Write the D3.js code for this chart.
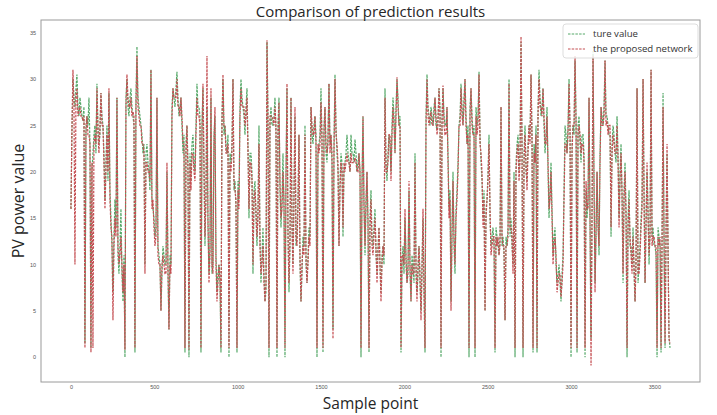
<!DOCTYPE html>
<html>
<head>
<meta charset="utf-8">
<script src="https://cdn.jsdelivr.net/npm/d3@7"></script>
<style>
  body { margin: 0; background: #fff; }
  svg { display: block; font-family: "Open Sans", "Noto Sans", sans-serif; }
  .tick text { fill: #555; font-size: 5.5px; }
</style>
</head>
<body>
<svg id="chart" width="717" height="415"></svg>
<script>
// one value every 6 samples
const sampleStep = 6;

const trueValues = [
  16, 24, 30, 28, 27, 29, 30.5, 27, 26, 28, 27, 26, 25.5, 27, 1.5, 24, 26, 25, 28, 23,
  1, 20, 22, 24, 25, 22, 29.5, 25, 23, 24, 28.5, 26, 25, 22, 17, 21, 25, 19, 28.5, 18,
  15, 12, 7, 13, 17, 14, 28, 11, 9, 12, 16, 9, 6, 11, 0, 28, 30, 27, 26, 28,
  29, 27, 26, 25, 0.5, 28, 33.5, 28, 27, 26, 25, 24, 22, 23, 10, 22, 23, 21, 20, 18,
  31, 17, 16, 15, 13, 14, 28, 12, 11, 10, 5, 9, 12, 11, 10, 10, 20, 9, 3, 11,
  10, 27, 29, 28, 27, 29, 30.8, 28, 26, 27, 28, 25, 22, 24, 0.5, 23, 25, 21, 0, 22,
  19, 23, 24, 21, 20, 25, 29.5, 27, 27, 26, 0.5, 25, 29, 20, 12, 18, 27, 14, 9, 12,
  28, 9, 10, 24, 26, 11, 7, 9, 10, 8, 0.5, 26, 30, 24, 25, 23, 22, 24, 0, 22,
  21, 23, 30, 18, 19, 16, 0.5, 19, 17, 27, 30, 28, 27, 26, 24, 27, 29, 23, 15, 22,
  22, 20, 9, 18, 19, 15, 12, 16, 25, 13, 8, 11, 14, 9, 6, 7, 34, 26, 0, 25,
  27, 25, 25, 26, 28, 24, 0, 25, 28, 18, 14, 17, 22, 16, 0, 20, 29, 14, 7, 12,
  28, 15, 10, 18, 26, 12, 13, 17, 24, 10, 6, 9, 13, 12, 25, 10, 8, 11, 14, 13,
  27, 24, 23, 25, 26, 24, 0, 22, 23, 24, 29, 23, 0.5, 25, 27, 22, 21, 24, 29.5, 23,
  24, 21, 3, 23, 30.5, 25, 22, 20, 12, 19, 22, 21, 13, 20, 21, 22, 24, 22, 21, 20,
  24, 22, 22, 21, 23.5, 22, 20, 21, 22, 20, 0, 19, 26, 17, 11, 16, 20, 14, 0.5, 15,
  18, 13, 12, 14, 16, 11, 9, 12, 14, 10, 7, 11, 12, 10, 29, 21, 19, 22, 24, 23,
  20, 25, 28, 26, 22, 27, 30, 28, 25, 26, 0.5, 10, 12, 9, 15, 11, 8, 10, 18, 9,
  6, 11, 10, 8, 22, 10, 7, 9, 12, 8, 5, 10, 15, 7, 0.5, 26, 30.5, 27, 26, 25,
  27, 26, 25, 27, 28, 25, 24.5, 26, 29, 27, 0, 26, 29, 26, 25, 25, 27, 22, 16, 18,
  6, 14, 20, 12, 9, 16, 18, 21, 25, 26, 29.5, 27, 25, 28, 30, 26, 23, 25, 0, 27,
  29, 26, 24, 25, 0, 27, 25, 26, 30.8, 24, 21, 19, 15, 18, 5, 16, 17, 20, 24, 15,
  12, 13, 14, 12, 0.5, 14, 13, 12, 11, 13, 27, 12, 13, 11, 4, 13, 12, 14, 30, 13,
  15, 12, 10, 20, 0, 21, 23, 24, 20, 22, 34, 23, 0, 22, 25, 20, 19, 23, 25, 24,
  30.5, 24, 0.5, 23, 21, 25, 0.5, 27, 31, 28, 26, 27, 29, 25, 22, 24, 27, 20, 15, 18,
  21, 16, 11, 13, 14, 10, 8, 9, 10, 8, 6, 9, 11, 18, 25, 24, 22, 25, 30, 24,
  0, 23, 25, 24, 32, 26, 0.5, 25, 26, 23, 21, 24, 24, 22, 0, 18, 15, 17, 28, 14,
  2, 16, 33, 19, 8, 13, 20, 15, 11, 22, 27, 26, 25, 27, 32, 26, 26, 25, 24, 24,
  13, 23, 25, 24, 22, 21, 26, 22, 15, 20, 23, 17, 8, 18, 21, 16, 0, 15, 18, 12,
  12, 10, 14, 9, 6, 11, 29, 8, 10, 12, 15, 17, 30, 18, 8, 15, 20, 16, 10, 14,
  31, 13, 14, 12, 12, 11, 0, 14, 13, 12, 0.5, 13, 28.5, 12, 1, 14, 22, 12, 2, 1
];

const predValues = [
  16, 25, 31, 27, 10, 28, 29, 26, 26.5, 27, 26, 26, 25.5, 26, 1, 25, 26, 24, 24, 23,
  0.5, 21, 1, 23, 24, 23, 29, 24, 22, 25, 28.5, 25, 25, 21, 16, 20, 24, 20, 29, 17,
  14, 13, 4, 12, 15, 13, 28, 12, 10, 11, 13, 10, 7, 10, 0.8, 27, 30.5, 28, 27, 27,
  28, 26, 26.5, 26, 1, 27, 32.5, 27, 26, 25, 25, 23, 23, 22, 9, 21, 21, 20, 20, 19,
  31, 16, 17, 14, 12, 13, 28, 11, 10, 10, 5, 10, 11, 10, 9, 9, 21, 10, 3, 10,
  9, 26, 29, 28, 28, 28, 30, 27, 27, 26, 28, 26, 23, 23, 1, 22, 25, 20, 0.8, 21,
  18, 22, 22, 20, 19, 24, 28, 26, 26, 25, 1, 24, 29.5, 21, 13, 17, 32.5, 15, 8, 11,
  29, 10, 9, 23, 27, 10, 6, 8, 10, 9, 1, 25, 30.5, 25, 25, 22, 22, 23, 1, 21,
  20, 22, 30, 19, 18, 17, 1, 18, 16, 26, 29, 27, 27, 27, 25, 26, 28, 22, 16, 21,
  21, 19, 10, 17, 18, 16, 13, 15, 23, 12, 9, 10, 12, 8, 6, 8, 34.2, 25, 1, 26,
  26, 26, 25.5, 25, 27, 25, 1, 24, 27.5, 19, 15, 16, 20, 17, 1, 19, 29.5, 13, 8, 13,
  28, 14, 9, 17, 27, 13, 12, 16, 24, 11, 6, 10, 12, 11, 24, 11, 8, 10, 13, 12,
  27, 25, 24, 24, 26, 23, 1, 23, 22, 23, 27.5, 24, 1, 24, 27, 23, 22, 23, 29.5, 22,
  24, 22, 2, 22, 30, 24, 23, 21, 12, 18, 21, 20, 14, 21, 20, 21, 22, 21, 21, 20,
  22, 21, 21, 21, 21.5, 21, 20, 20, 22, 20, 1, 18, 26, 16, 12, 17, 20, 15, 1, 14,
  17, 12, 11, 13, 15, 12, 8, 11, 14, 10, 6, 10, 12, 11, 28, 20, 20, 21, 24, 24,
  19, 24, 27, 25, 22, 26, 30.2, 27, 25, 25, 1, 11, 11, 10, 16, 10, 8, 9, 19, 10,
  6, 10, 9, 9, 21, 9, 6, 10, 12, 9, 4, 9, 16, 8, 1, 25, 30, 26, 25, 26,
  26.5, 25, 25, 26, 28, 26, 24, 25, 29, 26, 1, 25, 29.3, 25, 24, 24, 27, 21, 15, 17,
  5, 13, 19, 13, 10, 15, 17, 20, 25, 25, 29, 26, 25, 27, 30, 25, 23, 24, 1, 26,
  29, 25, 24, 24, 1, 26, 24, 25, 30.5, 23, 22, 20, 14, 17, 5, 15, 17, 19, 23, 16,
  11, 12, 13, 13, 1, 13, 12, 13, 11, 12, 27, 13, 12, 12, 4, 12, 12, 13, 29.5, 14,
  14, 13, 9, 19, 1, 20, 22, 23, 19, 21, 34.6, 22, 1, 21, 24, 21, 18, 22, 25, 23,
  30.5, 23, 1, 22, 21, 24, 1, 26, 30, 27, 27, 26, 29, 26, 23, 23, 26, 21, 16, 17,
  20, 15, 10, 12, 13, 11, 7, 8, 9, 9, 6.5, 8, 10, 17, 23, 23, 22, 24, 29.5, 25,
  1, 22, 25, 25, 32.5, 25, 1, 24, 25, 24, 22, 23, 23, 21, 1, 19, 16, 16, 28, 15,
  -0.9, 15, 32.5, 18, 7, 14, 20, 14, 12, 21, 27, 25, 25, 26, 32, 25, 25.5, 24, 25, 25,
  14, 22, 24, 23, 22, 22, 25, 21, 14, 19, 22, 18, 9, 17, 20, 15, 1, 14, 17, 13,
  11, 9, 13, 10, 6, 10, 29, 9, 9, 11, 14, 16, 30, 17, 8, 14, 21, 15, 11, 13,
  31, 12, 13, 13, 12, 12, 1, 13, 12, 13, 1, 12, 27, 13, 1.5, 13, 23, 11, 2, 1.5
];

const xTicks = [0, 500, 1000, 1500, 2000, 2500, 3000, 3500];
const yTicks = [0, 5, 10, 15, 20, 25, 30, 35];

const seriesNames = ["ture value", "the proposed network"];
const seriesColors = ["#55a868", "#c44e52"];

const svg = d3.select("#chart");
const plot = { left: 41, right: 700, top: 20, bottom: 382 };

const samples = trueValues.map((d, i) => i * sampleStep);
const xMax = d3.max(samples);
const allY = trueValues.concat(predValues);
const yMin = d3.min(allY), yMax = d3.max(allY);
const yPad = (yMax - yMin) * 0.05;

const x = d3.scaleLinear()
  .domain([-xMax * 0.05, xMax * 1.05])
  .range([plot.left, plot.right]);
const y = d3.scaleLinear()
  .domain([yMin - yPad, yMax + yPad])
  .range([plot.bottom, plot.top]);

// axes: labels only, no tick marks
svg.append("g")
  .attr("transform", `translate(0,${plot.bottom})`)
  .call(d3.axisBottom(x).tickValues(xTicks).tickFormat(d3.format("d")).tickSize(0).tickPadding(3))
  .call((g) => g.select(".domain").remove());
svg.append("g")
  .attr("transform", `translate(${plot.left},0)`)
  .call(d3.axisLeft(y).tickValues(yTicks).tickFormat(d3.format("d")).tickSize(0).tickPadding(5))
  .call((g) => g.select(".domain").remove());

const line = d3.line()
  .x((d, i) => x(samples[i]))
  .y((d) => y(d));

const gLines = svg.append("g");
[trueValues, predValues].forEach((values, k) => {
  gLines.append("path")
    .datum(values)
    .attr("fill", "none")
    .attr("stroke", seriesColors[k])
    .attr("stroke-width", 1.2)
    .attr("stroke-dasharray", "2.5,1.2")
    .attr("d", line);
});

// frame
svg.append("rect")
  .attr("x", plot.left)
  .attr("y", plot.top)
  .attr("width", plot.right - plot.left)
  .attr("height", plot.bottom - plot.top)
  .attr("fill", "none")
  .attr("stroke", "#9a9a9a")
  .attr("stroke-width", 1);

// legend
const legend = svg.append("g").attr("transform", "translate(563,24)");
legend.append("rect")
  .attr("width", 135)
  .attr("height", 34)
  .attr("rx", 3)
  .attr("fill", "#fff")
  .attr("fill-opacity", 0.8)
  .attr("stroke", "#ddd");
seriesNames.forEach((name, k) => {
  const row = legend.append("g").attr("transform", `translate(0,${10 + k * 15})`);
  row.append("line")
    .attr("x1", 5).attr("x2", 22)
    .attr("stroke", seriesColors[k])
    .attr("stroke-dasharray", "2.5,1.2");
  row.append("text")
    .attr("x", 30)
    .attr("dy", "0.35em")
    .attr("font-size", 9.6)
    .attr("fill", "#333")
    .text(name);
});

// titles
svg.append("text")
  .attr("x", (plot.left + plot.right) / 2)
  .attr("y", 17)
  .attr("text-anchor", "middle")
  .attr("font-size", 15)
  .attr("fill", "#262626")
  .text("Comparison of prediction results");
svg.append("text")
  .attr("x", (plot.left + plot.right) / 2)
  .attr("y", 409)
  .attr("text-anchor", "middle")
  .attr("font-size", 15.5)
  .attr("fill", "#262626")
  .text("Sample point");
svg.append("text")
  .attr("transform", `translate(24,${(plot.top + plot.bottom) / 2}) rotate(-90)`)
  .attr("text-anchor", "middle")
  .attr("font-size", 16)
  .attr("fill", "#262626")
  .text("PV power value");
</script>
</body>
</html>
